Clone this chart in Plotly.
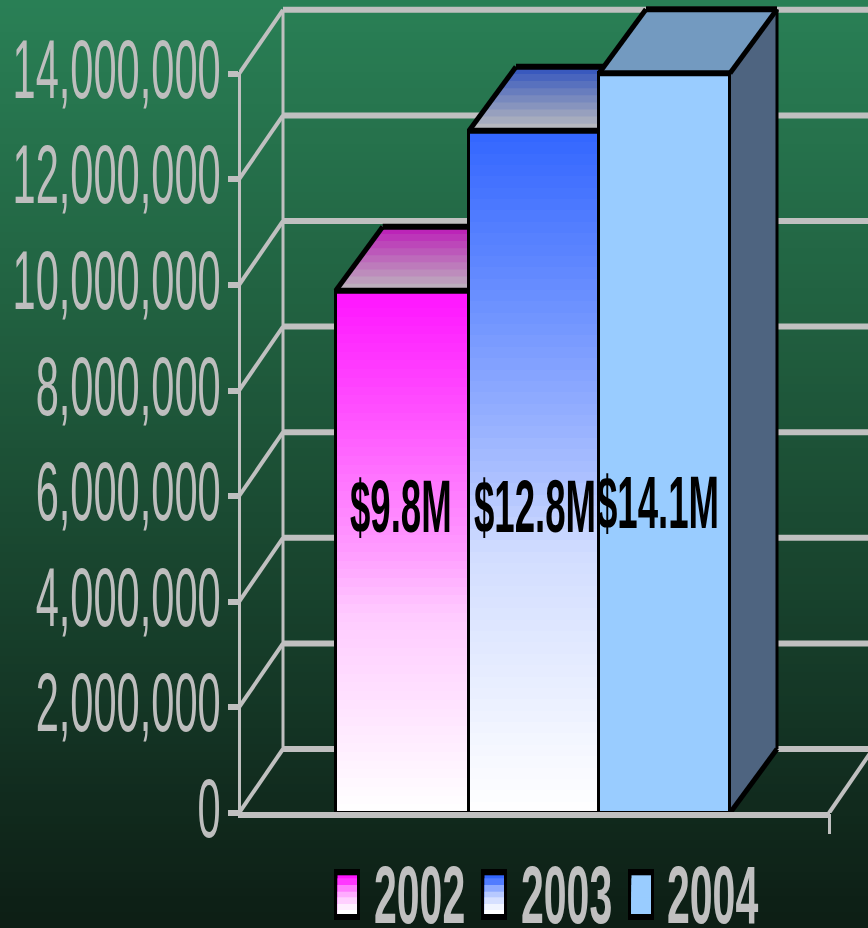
import numpy as np
import plotly.graph_objects as go

# chart data
years = ["2002", "2003", "2004"]
values = [9890000, 12920000, 14010000]
bar_labels = ["$9.8M", "$12.8M", "$14.1M"]
label_x = [-0.013, 1.008, 1.944]
label_y = [5780000, 5780000, 5870000]
y_ticks = [0, 2000000, 4000000, 6000000, 8000000, 10000000, 12000000, 14000000]

# page geometry
W, H = 868, 928
LEFT, BOTTOM = 239, 813
PX_PER_BAR = 131.33
PX_PER_UNIT = 52.8 / 1000000
X0 = (LEFT - 336) / PX_PER_BAR - 0.5
X1 = (W - 336) / PX_PER_BAR - 0.5
X_END = (829 - 336) / PX_PER_BAR - 0.5
Y1 = BOTTOM / PX_PER_UNIT
WALL_DX = 44 / PX_PER_BAR
BAR_DX = 47 / PX_PER_BAR
DY = 64 / PX_PER_UNIT
bar_edges = (np.array([335.7, 469, 599, 730]) - 336) / PX_PER_BAR - 0.5

GREY = "#c0c0c0"
FONT = "Liberation Sans"

front_top = [(255, 20, 255), (51, 102, 255), (153, 204, 255)]
front_bottom = [(255, 255, 255), (255, 255, 255), (153, 204, 255)]
top_back = [(188, 28, 184), (50, 84, 190), (115, 154, 192)]
top_front = [(190, 184, 190), (190, 190, 190), (115, 154, 192)]
ramp_t = [0, 0.26, 0.5, 0.62, 0.94, 1]
ramp_f = [0, 0.29, 0.58, 0.78, 0.97, 1]
swatch_f = [0, 0.15, 0.45, 0.65, 0.8, 0.93, 1]
swatch_y = [875.3, 878.3, 885, 891.7, 897.3, 904, 910, 914]


def mix(a, b, f):
    return "rgb(%d,%d,%d)" % tuple(a[k] + (b[k] - a[k]) * f for k in range(3))


def px(x):
    return (x - LEFT) / (W - LEFT)


def py(y):
    return (BOTTOM - y) / BOTTOM


def seg(x, y, width, color="black", axis=1):
    return go.Scatter(x=x, y=y, mode="lines", line=dict(color=color, width=width), cliponaxis=False,
                      showlegend=False, hoverinfo="skip", xaxis="x%d" % axis if axis > 1 else "x",
                      yaxis="y%d" % axis if axis > 1 else "y")


def poly(x, y, color):
    return go.Scatter(x=x, y=y, mode="lines", fill="toself", fillcolor=color, line=dict(width=0),
                      showlegend=False, hoverinfo="skip", cliponaxis=False)


fig = go.Figure()

# walls and floor
for t in y_ticks:
    fig.add_trace(seg([X0, X0 + WALL_DX], [t, t + DY], 4, GREY))
    fig.add_trace(seg([X0 + WALL_DX, X_END + WALL_DX], [t + DY, t + DY], 6, GREY))
fig.add_trace(seg([X0 + WALL_DX, X0 + WALL_DX], [DY, y_ticks[-1] + DY], 3, GREY))
fig.add_trace(seg([X_END, X_END + WALL_DX], [0, DY], 4, GREY))

# top faces, behind the front faces of the next bar
for i, v in enumerate(values):
    n = 9 if i < 2 else 1
    xl, xr = bar_edges[i], bar_edges[i + 1]
    for k in range(n):
        a = k / n
        ys = [v + DY * a, v + DY, v + DY, v + DY * a]
        xs = [xl + BAR_DX * a, xl + BAR_DX, xr + BAR_DX, xr + BAR_DX * a]
        fig.add_trace(poly(xs, ys, mix(top_front[i], top_back[i], (k + 0.5) / n)))
    fig.add_trace(seg([xl, xl + BAR_DX], [v, v + DY], 5))
    fig.add_trace(seg([xl + BAR_DX, xr + BAR_DX], [v + DY, v + DY], 6))

# side of the last bar
last = len(values) - 1
xr = bar_edges[last + 1]
side_x = [xr, xr + BAR_DX, xr + BAR_DX, xr]
fig.add_trace(poly(side_x, [0, DY, values[last] + DY, values[last]], "#4e6480"))
fig.add_trace(seg(side_x[:2], [0, DY], 5))
fig.add_trace(seg(side_x[1:3], [DY, values[last] + DY], 3))
fig.add_trace(seg(side_x[2:], [values[last] + DY, values[last]], 5))

# front faces
centers = (bar_edges[:-1] + bar_edges[1:]) / 2
widths = bar_edges[1:] - bar_edges[:-1]
for i, v in enumerate(values):
    n = 60
    edges = np.linspace(v, 0, n + 1)
    colors = [mix(front_top[i], front_bottom[i], np.interp((k + 0.5) / n, ramp_t, ramp_f)) for k in range(n)]
    fig.add_trace(go.Bar(x=[centers[i]] * n, y=edges[:-1] - edges[1:], base=edges[1:], width=widths[i], name=years[i],
                         marker=dict(color=colors, line=dict(width=0)), showlegend=False,
                         hoverinfo="skip", xaxis="x2", yaxis="y2"))
fig.add_trace(go.Bar(x=centers, y=values, width=widths, showlegend=False, hoverinfo="skip",
                     marker=dict(color="rgba(0,0,0,0)", line=dict(color="black", width=3)),
                     xaxis="x2", yaxis="y2"))
for i, v in enumerate(values):
    fig.add_trace(seg([bar_edges[i], bar_edges[i + 1]], [v, v], 6, axis=2))

for i, lab in enumerate(bar_labels):
    fig.add_annotation(x=label_x[i], y=label_y[i], text=lab, showarrow=False, xref="x2", yref="y2",
                       xanchor="center", yanchor="middle",
                       font=dict(family=FONT, size=36.6, color="black", weight="bold"))

# background and legend
shapes = []
bg_stops_y = [0, 320, 730, 812, 928]
bg_r = [42, 33, 20, 17, 13]
bg_g = [128, 96, 52, 42, 30]
bg_b = [86, 64, 36, 29, 21]
for y in range(0, H, 8):
    c = "rgb(%d,%d,%d)" % tuple(np.interp(y + 4, bg_stops_y, s) for s in (bg_r, bg_g, bg_b))
    shapes.append(dict(type="rect", xref="paper", yref="paper", layer="below", x0=px(0), x1=px(W),
                       y0=py(y), y1=py(y + 8), fillcolor=c, line=dict(width=0)))

# axis lines sit half outside the plot area, where trace lines get clipped
shapes.append(dict(type="rect", xref="paper", yref="paper", x0=px(238), x1=px(241), y0=py(72), y1=py(815),
                   fillcolor=GREY, line=dict(width=0)))
shapes.append(dict(type="rect", xref="paper", yref="paper", x0=px(238), x1=px(830), y0=py(812), y1=py(818),
                   fillcolor=GREY, line=dict(width=0)))

legend_x = [334, 481, 628]
legend_text_x = [418, 565, 711]
for i, lx in enumerate(legend_x):
    shapes.append(dict(type="rect", xref="paper", yref="paper", x0=px(lx), x1=px(lx + 26), y0=py(869), y1=py(920),
                       fillcolor="black", line=dict(width=0)))
    for k, f in enumerate(swatch_f):
        shapes.append(dict(type="rect", xref="paper", yref="paper", x0=px(lx + 3.5), x1=px(lx + 23),
                           y0=py(swatch_y[k]), y1=py(swatch_y[-1]),
                           fillcolor=mix(front_top[i], front_bottom[i], f), line=dict(width=0)))
    fig.add_annotation(x=px(legend_text_x[i]), y=py(895), xref="paper", yref="paper", text=years[i], showarrow=False,
                       xanchor="center", yanchor="middle",
                       font=dict(family=FONT, size=41, color=GREY, weight="bold"))

fig.update_layout(
    width=W, height=H, margin=dict(l=LEFT, r=0, t=0, b=H - BOTTOM), barmode="overlay", bargap=0,
    paper_bgcolor="#0d1e15", plot_bgcolor="rgba(0,0,0,0)", shapes=shapes, showlegend=False,
    xaxis=dict(range=[X0, X1], showgrid=False, zeroline=False, showline=False, showticklabels=False,
               tickvals=[X_END], ticks="outside", ticklen=20, tickwidth=3, tickcolor=GREY),
    yaxis=dict(range=[0, Y1], showgrid=False, zeroline=False, showline=False, tickvals=y_ticks, tickformat=",",
               ticks="outside", ticklen=10, tickwidth=6, tickcolor=GREY,
               tickfont=dict(family=FONT, size=41.6, color="#bebebe")),
    xaxis2=dict(range=[X0, X1], overlaying="x", visible=False),
    yaxis2=dict(range=[0, Y1], overlaying="y", visible=False),
)

# the source text is stretched to twice its height
stretch = """
document.body.style.margin = '0';
document.body.style.overflow = 'hidden';
var gd = document.getElementById('{plot_id}');
gd.querySelectorAll('.ytick text, .annotation-text').forEach(function (t) {
    var b = t.getBBox();
    var c = b.y + b.height / 2;
    var dy = t.closest('.ytick') ? -5 : 0;
    var tr = t.getAttribute('transform') || '';
    t.setAttribute('transform', tr + ' translate(1,' + (c + dy) + ') scale(1,2) translate(0,' + (-c) + ')');
});
"""
fig.write_html("out.html", post_script=stretch, config=dict(displayModeBar=False))
